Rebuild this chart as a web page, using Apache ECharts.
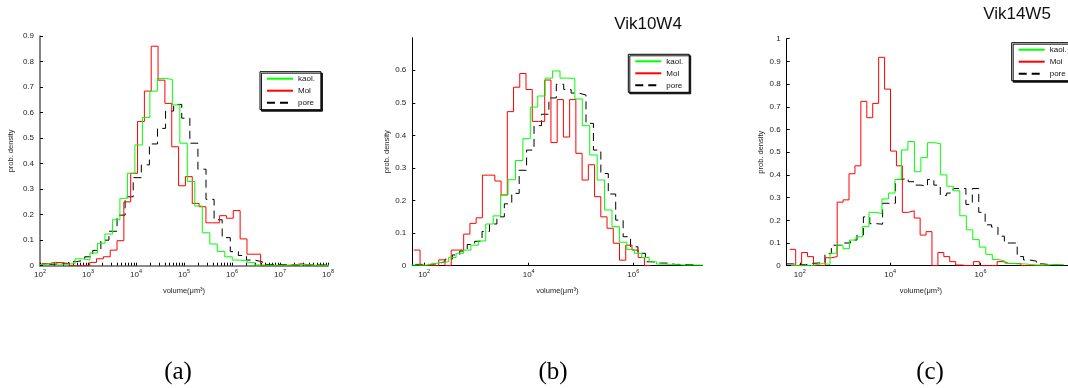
<!DOCTYPE html>
<html>
<head>
<meta charset="utf-8">
<script src="https://cdn.jsdelivr.net/npm/echarts@6/dist/echarts.min.js"></script>
<style>
  html, body { margin: 0; padding: 0; background: #ffffff; }
  #chart { width: 1068px; height: 388px; }
</style>
</head>
<body>
<div id="chart"></div>
<script>
// Volume distributions of kaolinite, Mol and pore objects, as step histograms
// on log10(volume) bins. Order of the per-series arrays: kaol., Mol, pore.
const seriesNames = ['kaol.', 'Mol', 'pore'];

// (a) log10 of the first bin's left edge, and bin width in decades
const binStartA = [1.949, 2.037, 1.920];
const binWidthA = [0.156, 0.1425, 0.1685];
const kaolA = [0.005, 0.008, 0.006, 0.006, 0.008, 0.027, 0.022, 0.05, 0.088, 0.124,
  0.18, 0.264, 0.362, 0.473, 0.581, 0.684, 0.734, 0.73, 0.63, 0.48,
  0.33, 0.234, 0.129, 0.085, 0.056, 0.035, 0.022, 0.02, 0.012, 0.003,
  0.002, 0.002, 0.002, 0.003, 0.004, 0.004, 0.002, 0.002, 0.002];
const molA = [0.008, 0.013, 0.012, 0.008, 0, 0, 0, 0.013, 0.027, 0.035,
  0.061, 0.098, 0.25, 0.362, 0.565, 0.684, 0.86, 0.727, 0.636, 0.466,
  0.313, 0.349, 0.244, 0.231, 0.168, 0.168, 0.196, 0.186, 0.216, 0.105,
  0.045, 0.045, 0, 0, 0, 0, 0.003, 0.008, 0.003, 0, 0, 0];
const poreA = [0.005, 0.005, 0.008, 0.008, 0.016, 0.022, 0.035, 0.06, 0.10, 0.135,
  0.198, 0.27, 0.345, 0.395, 0.477, 0.538, 0.606, 0.632, 0.578, 0.48,
  0.378, 0.26, 0.18, 0.11, 0.055, 0.04, 0.022, 0.015, 0.005, 0.004,
  0.004, 0.003, 0.003, 0.003, 0.003, 0.003];

// (b) Vik10W4
const binStartB = [1.759, 1.803, 1.830];
const binWidthB = [0.142, 0.1192, 0.142];
const kaolB = [0.002, 0.002, 0.006, 0.01, 0.012, 0.025, 0.038, 0.048, 0.063, 0.076,
  0.128, 0.153, 0.217, 0.264, 0.323, 0.39, 0.487, 0.521, 0.576, 0.598,
  0.576, 0.575, 0.512, 0.43, 0.34, 0.263, 0.171, 0.12, 0.072, 0.05,
  0.038, 0.025, 0.012, 0.005, 0.004, 0.003, 0.002, 0.002, 0.002, 0.002];
const molB = [0.048, 0, 0, 0, 0.018, 0, 0.048, 0.048, 0.097, 0.13,
  0.147, 0.278, 0.278, 0.26, 0.217, 0.473, 0.548, 0.59, 0.541, 0.443,
  0.443, 0.57, 0.378, 0.51, 0.395, 0.51, 0.345, 0.263, 0.31, 0.212,
  0.15, 0.115, 0.069, 0.017, 0.063, 0.048, 0.025, 0];
const poreB = [0.004, 0.004, 0.006, 0.012, 0.02, 0.033, 0.045, 0.065, 0.075, 0.105,
  0.128, 0.15, 0.19, 0.222, 0.293, 0.355, 0.43, 0.465, 0.515, 0.557,
  0.541, 0.53, 0.524, 0.437, 0.355, 0.283, 0.22, 0.14, 0.089, 0.058,
  0.038, 0.012, 0.008, 0.008, 0.004, 0.004, 0.003, 0.003];

// (c) Vik14W5
const binStartC = [1.807, 1.778, 1.705];
const binWidthC = [0.1436, 0.1311, 0.1418];
const kaolC = [0, 0, 0, 0.005, 0.01, 0.005, 0.055, 0.09, 0.075, 0.113,
  0.127, 0.172, 0.235, 0.23, 0.294, 0.32, 0.38, 0.51, 0.547, 0.414,
  0.476, 0.542, 0.538, 0.4, 0.35, 0.33, 0.22, 0.158, 0.115, 0.082,
  0.05, 0.027, 0.02, 0.01, 0.008, 0.008, 0.005, 0.003, 0.003, 0.005,
  0.005, 0.005];
const molC = [0.072, 0, 0.058, 0.04, 0, 0, 0.035, 0.04, 0.28, 0.29,
  0.405, 0.44, 0.724, 0.652, 0.715, 0.918, 0.778, 0.505, 0.44, 0.235,
  0.242, 0.21, 0.135, 0.15, 0, 0.058, 0.04, 0.018, 0.003, 0,
  0, 0.018, 0, 0, 0, 0.018, 0.01, 0.01, 0.01, 0,
  0, 0, 0, 0];
const poreC = [0.008, 0.004, 0.004, 0.01, 0.012, 0.012, 0.054, 0.09, 0.09, 0.1,
  0.113, 0.135, 0.215, 0.185, 0.183, 0.275, 0.275, 0.38, 0.385, 0.37,
  0.355, 0.35, 0.38, 0.355, 0.31, 0.32, 0.34, 0.34, 0.27, 0.34,
  0.235, 0.18, 0.17, 0.13, 0.1, 0.1, 0.04, 0.025, 0.02, 0.008,
  0.005, 0.005, 0.003];

// decade exponents that carry a "10^n" label
const decadesA = [2, 3, 4, 5, 6, 7, 8];
const decadesBC = [2, 4, 6];
const panelTitles = ['', 'Vik10W4', 'Vik14W5'];
const panelLetters = ['(a)', '(b)', '(c)'];
const xName = 'volume(\u03bcm\u00b3)';
const yName = 'prob. density';

// ---------------------------------------------------------------------------
const lineColors = ['#00ff00', '#ff0000', '#000000'];
const sans = 'Arial, "Liberation Sans", Helvetica, sans-serif';
const serif = '"Liberation Serif", "Times New Roman", serif';

function stairs(start, width, vals) {
  const pts = vals.map((v, i) => [start + i * width, v]);
  pts.push([start + vals.length * width, vals[vals.length - 1]]);
  return pts;
}

function panelSeries(idx, starts, widths, sets) {
  return sets.map((vals, i) => ({
    name: seriesNames[i],
    type: 'line',
    xAxisIndex: idx,
    yAxisIndex: idx,
    step: 'end',
    symbol: 'none',
    silent: true,
    animation: false,
    clip: true,
    z: 3 - i,
    lineStyle: { color: lineColors[i], width: 1, type: i === 2 ? [8, 5] : 'solid' },
    itemStyle: { color: lineColors[i] },
    data: stairs(starts[i], widths[i], vals)
  }));
}

// log-spaced minor ticks between decades (2..9 x 10^n)
const minorA = [];
for (let n = decadesA[0]; n < decadesA[decadesA.length - 1]; n++) {
  for (let m = 2; m <= 9; m++) minorA.push(n + Math.log10(m));
}

// "10" with a raised exponent: the bottom padding lifts the small digits
const labelRich = {
  b: { fontSize: 8, fontFamily: sans, color: '#222' },
  s: { fontSize: 5.5, fontFamily: sans, color: '#222', padding: [0, 0, 6, 0] }
};

function xAxisFor(gi, min, max, majors, tickVals, lineColor, lineWidth, namePad) {
  return {
    type: 'value', gridIndex: gi, min: min, max: max,
    name: xName, nameLocation: 'middle', nameGap: 21,
    nameTextStyle: { fontSize: 7.5, fontFamily: sans, color: '#222', padding: namePad },
    axisLine: { show: true, onZero: false, lineStyle: { color: lineColor, width: lineWidth } },
    axisTick: { show: true, inside: true, length: 3, customValues: tickVals,
      lineStyle: { color: '#000', width: 1 } },
    axisLabel: { margin: 3, customValues: majors, rich: labelRich,
      formatter: v => '{b|10}{s|' + Math.round(v) + '}' },
    splitLine: { show: false }
  };
}

function yAxisFor(gi, max, nameGap, lineColor, lineWidth, showMax) {
  return {
    type: 'value', gridIndex: gi, min: 0, max: max, interval: 0.1,
    name: yName, nameLocation: 'middle', nameGap: nameGap, nameRotate: 90,
    nameTextStyle: { fontSize: 7.5, fontFamily: sans, color: '#222' },
    axisLine: { show: true, lineStyle: { color: lineColor, width: lineWidth } },
    axisTick: { show: true, inside: true, length: 3, lineStyle: { color: '#000', width: 1 } },
    axisLabel: { margin: 6, fontSize: 8, fontFamily: sans, color: '#222', showMaxLabel: showMax,
      formatter: v => (v === 0 ? '0' : String(+v.toFixed(1))) },
    splitLine: { show: false }
  };
}

function legendAt(left, top) {
  return {
    left: left, top: top, orient: 'vertical', data: seriesNames,
    selectedMode: false, itemWidth: 26, itemHeight: 8, itemGap: 4,
    padding: [3, 6, 3, 6],
    itemStyle: { opacity: 0 },
    backgroundColor: '#ffffff', borderColor: '#000000', borderWidth: 1,
    shadowColor: 'rgba(0,0,0,0.9)', shadowBlur: 0, shadowOffsetX: 1.5, shadowOffsetY: 1.5,
    textStyle: { fontSize: 8, fontFamily: sans, color: '#111' }
  };
}

const option = {
  backgroundColor: '#ffffff',
  animation: false,
  grid: [
    { left: 40, top: 36, width: 288, height: 229.7 },
    { left: 412.3, top: 37.7, width: 290, height: 228 },
    { left: 786.7, top: 38.7, width: 300, height: 227 }
  ],
  xAxis: [
    xAxisFor(0, 2, 8, decadesA, decadesA.concat(minorA), '#666', 1.6, [0, 0, 0, 0]),
    xAxisFor(1, 1.774, 7.32, decadesBC, decadesBC, '#000', 1, [0, 0, 0, 0]),
    xAxisFor(2, 1.71, 1.71 + 300 / 48.2, decadesBC, decadesBC, '#000', 1, [0, 13, 0, 0])
  ],
  yAxis: [
    yAxisFor(0, 0.9, 25, '#666', 1.6, true),
    yAxisFor(1, 0.7, 21, '#000', 1, false),
    yAxisFor(2, 1.0, 22, '#000', 1, true)
  ],
  legend: [legendAt(260, 71.7), legendAt(628.3, 54.3), legendAt(1011.7, 42.7)],
  series: []
    .concat(panelSeries(0, binStartA, binWidthA, [kaolA, molA, poreA]))
    .concat(panelSeries(1, binStartB, binWidthB, [kaolB, molB, poreB]))
    .concat(panelSeries(2, binStartC, binWidthC, [kaolC, molC, poreC])),
  graphic: [
    { type: 'text', x: 648, y: 16, style: { text: panelTitles[1], font: '17px ' + sans, fill: '#111', textAlign: 'center', textVerticalAlign: 'top' } },
    { type: 'text', x: 1017, y: 6, style: { text: panelTitles[2], font: '17px ' + sans, fill: '#111', textAlign: 'center', textVerticalAlign: 'top' } },
    { type: 'text', x: 178, y: 372, style: { text: panelLetters[0], font: '25px ' + serif, fill: '#000', textAlign: 'center', textVerticalAlign: 'middle' } },
    { type: 'text', x: 553, y: 372, style: { text: panelLetters[1], font: '25px ' + serif, fill: '#000', textAlign: 'center', textVerticalAlign: 'middle' } },
    { type: 'text', x: 930, y: 372, style: { text: panelLetters[2], font: '25px ' + serif, fill: '#000', textAlign: 'center', textVerticalAlign: 'middle' } }
  ]
};

const chart = echarts.init(document.getElementById('chart'), null, { renderer: 'canvas' });
chart.setOption(option);
</script>
</body>
</html>
